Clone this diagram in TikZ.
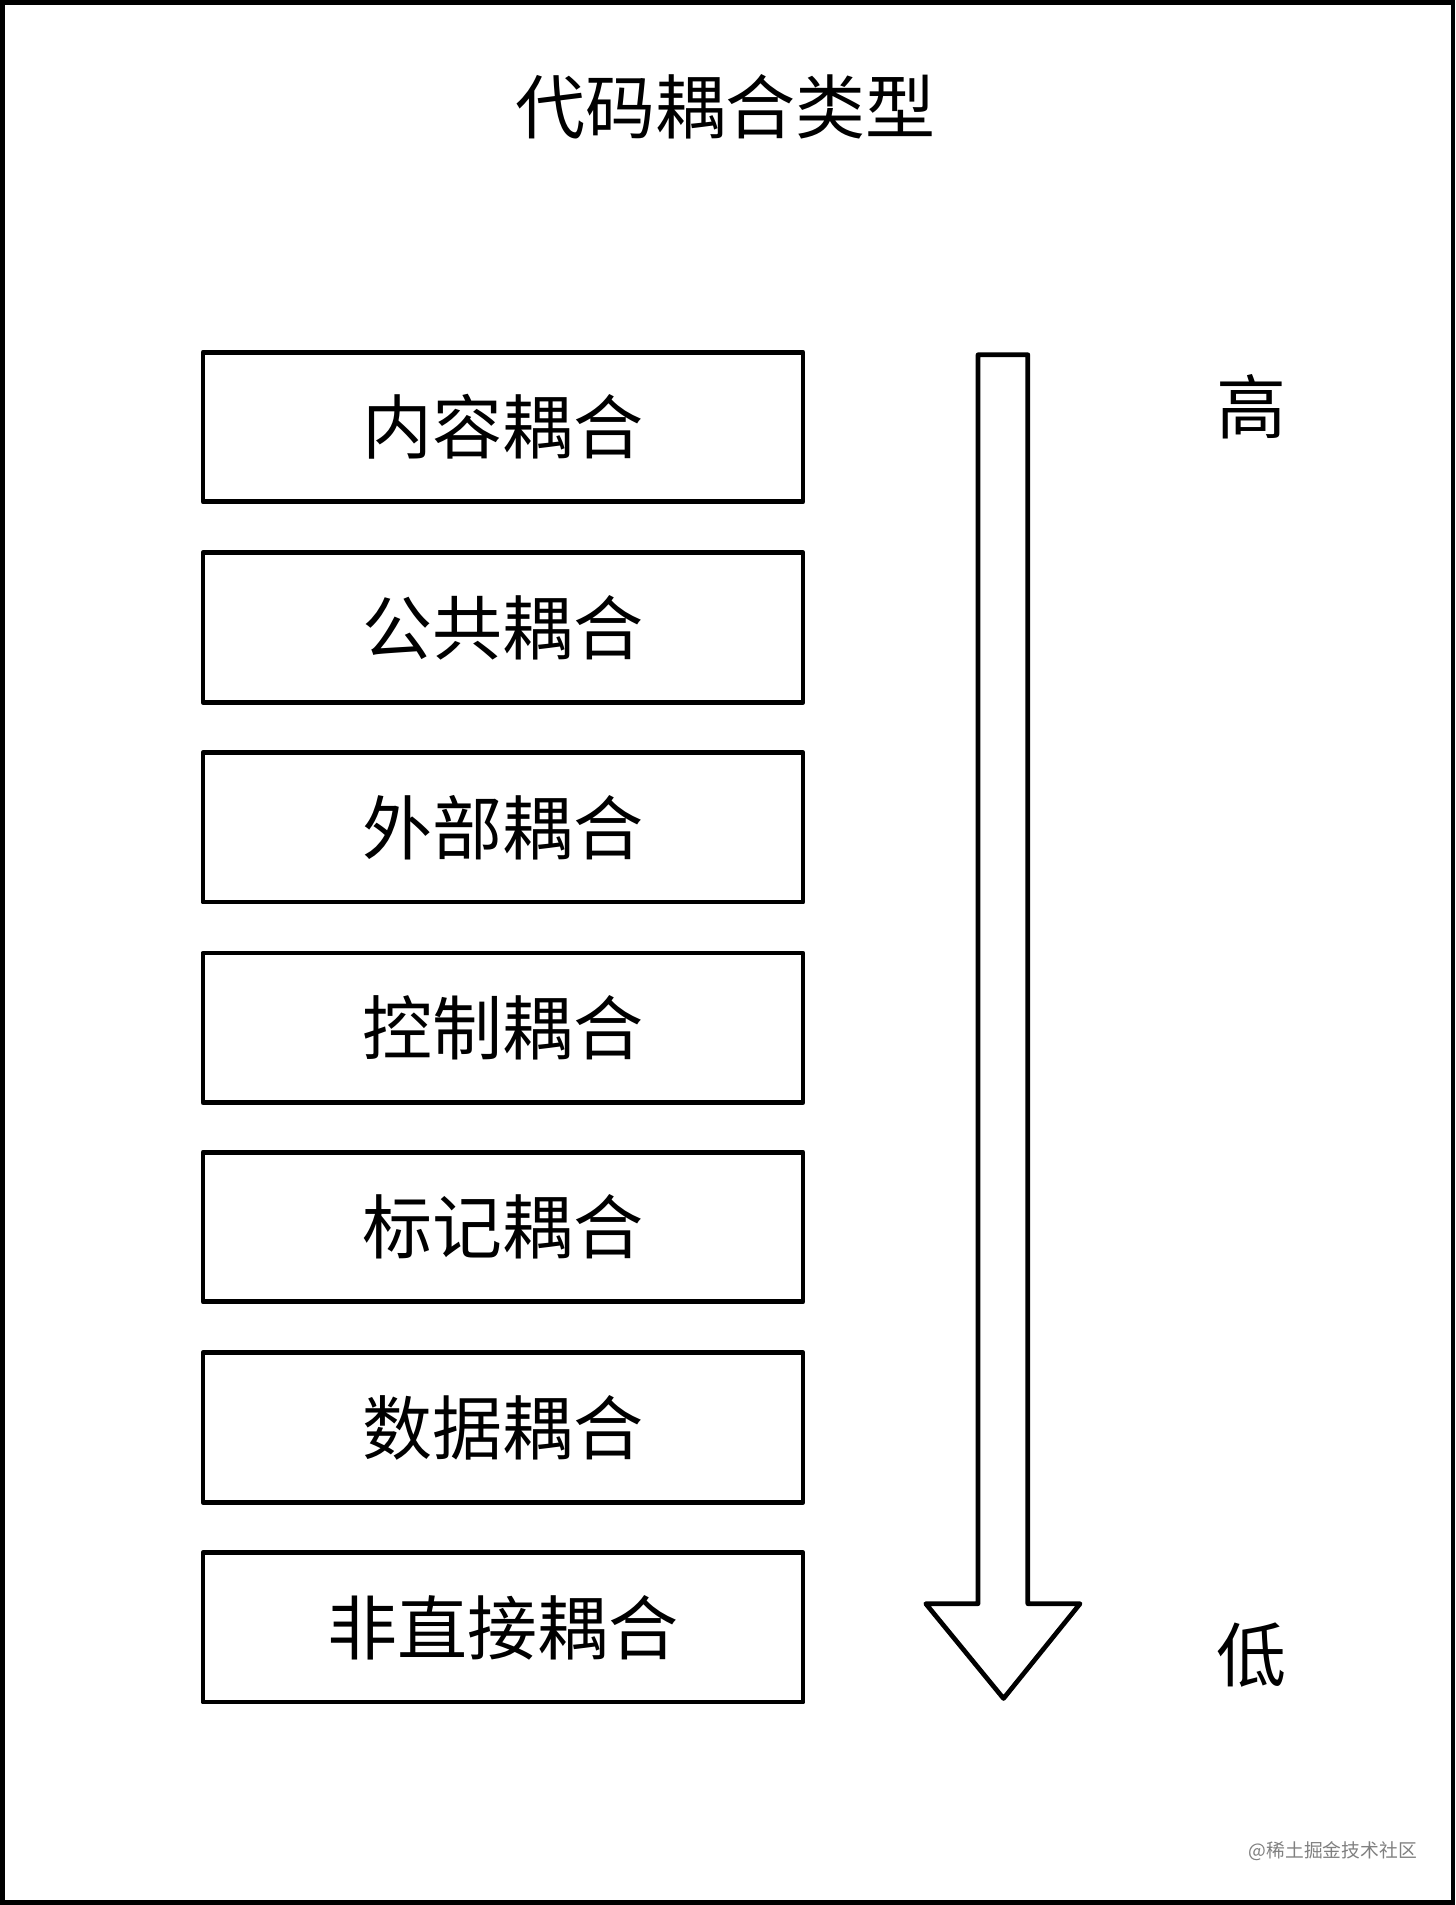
\documentclass[tikz,border=0pt]{standalone}
\usepackage{fontspec}
\newfontfamily\cjk{Noto Sans CJK SC}
\begin{document}
\begin{tikzpicture}[x=0.05cm,y=-0.05cm,
  box/.style={draw,line width=5.5pt,line join=round,minimum width=24.7cm,minimum height=6.15cm,inner sep=0pt,font=\cjk\fontsize{82}{90}\selectfont},
  lbl/.style={font=\cjk\fontsize{82}{90}\selectfont,inner sep=0pt}]
\useasboundingbox (0,0) rectangle (1198,1568);
\draw[line width=5.5pt] (2,2) rectangle (1196,1566);
\node[lbl] (title) at (597,88) {代码耦合类型};
\foreach \n/\y/\t in {b1/351.5/内容耦合,b2/516.5/公共耦合,b3/681/外部耦合,b4/846/控制耦合,b5/1010/标记耦合,b6/1175/数据耦合,b7/1339.5/非直接耦合}
  \node[box] (\n) at (414,\y) {\t};
\draw[line width=5.5pt,line join=round] (805,292) -- (846,292) -- (846,1320) -- (889,1320) -- (826,1398) -- (762,1320) -- (805,1320) -- cycle;
\node[lbl] (hi) at (1030,335) {高};
\node[lbl] (lo) at (1030,1362) {低};
\node[font=\cjk\fontsize{22}{24}\selectfont,text=gray,inner sep=0pt] (wm) at (1097,1524) {@稀土掘金技术社区};
\end{tikzpicture}
\end{document}
